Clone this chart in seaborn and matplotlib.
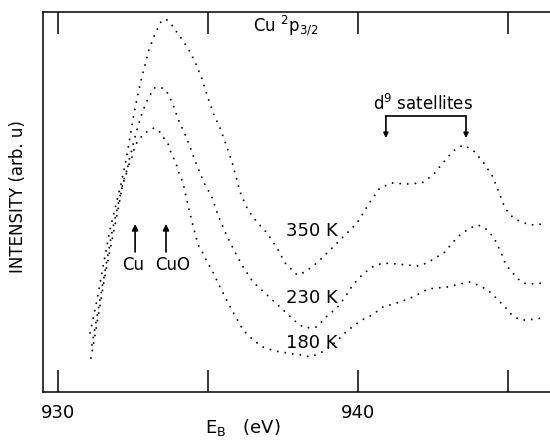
import matplotlib
matplotlib.use("Agg")
import matplotlib.pyplot as plt
import seaborn as sns
import pandas as pd

# Cu 2p3/2 spectra, binding energy (eV) vs intensity (arb. u)
e_350 = [931.07, 931.30, 931.53, 931.73, 931.93, 932.10, 932.27, 932.40, 932.50, 932.63,
         932.77, 932.90, 933.03, 933.23, 933.43, 933.60, 933.77, 934.03, 934.33, 934.57,
         934.80, 935.00, 935.20, 935.40, 935.63, 935.83, 936.07, 936.33, 936.63, 936.97,
         937.30, 937.57, 937.97, 938.23, 938.63, 939.07, 939.47, 939.97, 940.40, 940.73,
         941.13, 941.63, 942.13, 942.50, 942.83, 943.17, 943.50, 943.83, 944.17, 944.50,
         944.73, 944.90, 945.07, 945.30, 945.73, 946.17]
i_350 = [59, 92, 130, 162, 187, 208, 232, 255, 273, 293,
         312, 327, 342, 358, 370, 373, 368, 357, 344, 330,
         313, 294, 277, 264, 245, 227, 200, 182, 170, 159,
         144, 129, 117, 120, 129, 142, 154, 169, 190, 204,
         209, 208, 209, 217, 229, 241, 247, 242, 230, 215,
         197, 184, 177, 172, 167, 168]

e_230 = [931.13, 931.37, 931.60, 931.80, 932.00, 932.17, 932.27, 932.37, 932.47, 932.60,
         932.77, 932.93, 933.07, 933.20, 933.40, 933.60, 933.83, 934.00, 934.23, 934.40,
         934.60, 934.87, 935.13, 935.33, 935.57, 935.83, 936.13, 936.50, 936.97, 937.40,
         937.97, 938.23, 938.63, 939.00, 939.30, 939.57, 939.83, 940.13, 940.47, 940.83,
         941.30, 941.63, 942.00, 942.30, 942.63, 942.90, 943.17, 943.40, 943.73, 944.00,
         944.23, 944.40, 944.57, 944.80, 944.93, 945.13, 945.30, 945.50, 945.73, 946.17]
i_230 = [47, 87, 127, 160, 187, 209, 217, 232, 243, 259,
         276, 289, 297, 304, 305, 302, 288, 273, 258, 245,
         229, 209, 195, 177, 160, 144, 127, 110, 97, 85,
         69, 64, 65, 77, 84, 95, 107, 117, 125, 129,
         128, 127, 126, 129, 135, 140, 150, 157, 164, 167,
         164, 159, 152, 137, 127, 120, 114, 109, 108, 109]

e_180 = [931.10, 931.33, 931.57, 931.80, 932.00, 932.17, 932.33, 932.47, 932.57, 932.70,
         932.87, 933.03, 933.20, 933.37, 933.50, 933.67, 933.77, 933.93, 934.03, 934.17,
         934.33, 934.47, 934.67, 934.83, 934.97, 935.13, 935.40, 935.67, 935.83, 936.17,
         936.50, 936.83, 937.23, 937.83, 938.13, 938.40, 938.67, 938.93, 939.33, 939.63,
         939.90, 940.13, 940.47, 940.83, 941.40, 941.83, 942.33, 942.97, 943.40, 943.73,
         944.00, 944.33, 944.57, 944.90, 945.13, 945.40, 945.67, 946.13]
i_180 = [34, 74, 117, 152, 182, 210, 225, 235, 247, 252,
         259, 261, 264, 261, 255, 248, 239, 229, 219, 209,
         187, 170, 147, 139, 130, 122, 105, 89, 80, 62,
         52, 45, 41, 38, 37, 35, 38, 42, 52, 61,
         67, 72, 77, 85, 90, 95, 103, 105, 108, 110,
         107, 102, 95, 85, 77, 72, 72, 74]

temps = ["350 K", "230 K", "180 K"]
label_e = [938.47, 938.47, 938.47]
label_i = [161, 94, 49]

peak_names = ["Cu", "CuO"]
peak_e = [932.57, 933.60]

sat_e = [940.93, 943.60]

sns.set_style("white")
plt.rcParams["font.family"] = ["DejaVu Sans"]
plt.rcParams["text.color"] = "black"
plt.rcParams["xtick.color"] = "black"

fig = plt.figure(figsize=(5.5, 4.41), dpi=100)
ax = fig.add_axes([43 / 550, 49 / 441, 507 / 550, 380 / 441])

# dotted curves like the original scan
dot = (0, (0.01, 3.9))
for e, i in [(e_350, i_350), (e_230, i_230), (e_180, i_180)]:
    sns.lineplot(x=e, y=i, ax=ax, color="black", linewidth=1.4,
                 linestyle=dot, dash_capstyle="round", sort=False, estimator=None)

for t, x, y in zip(temps, label_e, label_i):
    ax.text(x, y, t, fontsize=13, ha="center", va="center")

# Cu / CuO reference marks
for name, x in zip(peak_names, peak_e):
    ax.annotate("", xy=(x, 168), xytext=(x, 140),
                arrowprops=dict(arrowstyle="-|>", lw=1.2, color="black",
                                mutation_scale=9, shrinkA=0, shrinkB=0))
ax.text(932.5, 127, "Cu", fontsize=12, ha="center", va="center")
ax.text(933.83, 127, "CuO", fontsize=12, ha="center", va="center")

# d9 satellites bracket
ax.plot(sat_e, [276, 276], color="black", lw=1.2)
for x in sat_e:
    ax.annotate("", xy=(x, 254), xytext=(x, 276),
                arrowprops=dict(arrowstyle="-|>", lw=1.2, color="black",
                                mutation_scale=7, shrinkA=0, shrinkB=0))
ax.text(940.5, 282, "d$^9$ satellites", fontsize=12, ha="left", va="baseline")

ax.text(936.5, 360, "Cu $^2$p$_{3/2}$", fontsize=12, ha="left", va="baseline")

ax.set_xlim(929.5, 946.4)
ax.set_ylim(0, 380)
ax.set_xticks([930, 935, 940, 945])
ax.set_xticklabels(["930", "", "940", ""])
ax.set_yticks([])
ax.tick_params(axis="x", direction="in", length=16, width=1.1, top=True,
               bottom=True, labelsize=13, pad=9, colors="black")
for s in ["left", "top", "bottom"]:
    ax.spines[s].set_linewidth(1.1)
    ax.spines[s].set_color("black")
ax.spines["right"].set_visible(False)

fig.text(18 / 550, 1 - 197 / 441, "INTENSITY (arb. u)", rotation=90,
         fontsize=12, ha="center", va="center")
fig.text(243 / 550, 1 - 428 / 441, "E$_\\mathrm{B}$   (eV)", fontsize=13,
         ha="center", va="center")

fig.savefig("out.png", dpi=100)
